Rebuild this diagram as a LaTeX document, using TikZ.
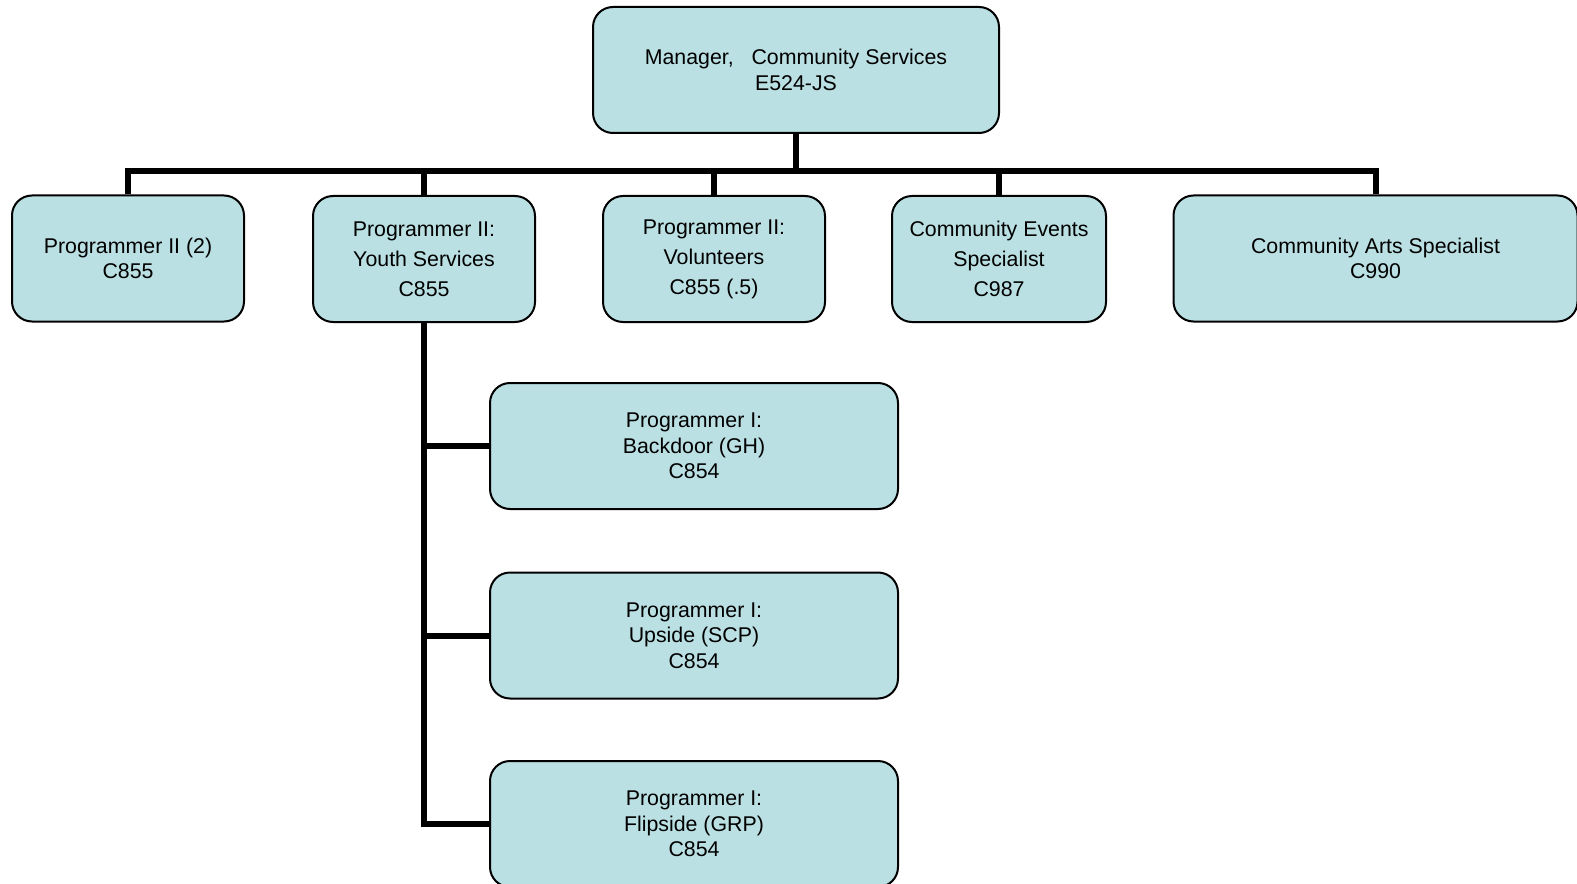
\documentclass[tikz,border=0pt]{standalone}
\usepackage{fontspec}
\setmainfont{Liberation Sans}
\definecolor{postfill}{HTML}{BAE0E3}

\begin{document}
\begin{tikzpicture}[x=0.75pt,y=-0.75pt,
    post/.style={draw=black, line width=1.5pt, fill=postfill, rounded corners=15pt,
        align=center, inner sep=0pt, minimum height=94.5pt,
        font=\fontsize{16}{19.1}\selectfont},
    roomy/.style={font=\fontsize{16}{22.5}\selectfont},
    link/.style={black, line width=4.5pt}]
    % CLIP EVERYTHING
    \useasboundingbox (0,0) rectangle (1577,884);
    \clip (0,0) rectangle (1577,884);

    % TOP
    \node[post, minimum width=304.5pt] (mgr) at (796,70) {Manager,~~~Community Services\\E524-JS};

    % SECOND ROW
    \node[post, minimum width=174pt] (p2) at (128,258.5) {Programmer II (2)\\C855};
    \node[post, roomy, minimum width=166.5pt] (youth) at (424,259) {Programmer II:\\Youth Services\\C855};
    \node[post, roomy, minimum width=166.5pt] (vol) at (714,259) {Programmer II:\\Volunteers\\C855 (.5)};
    \node[post, roomy, minimum width=160.5pt] (events) at (999,259) {Community Events\\Specialist\\C987};
    \node[post, minimum width=303pt] (arts) at (1375.5,258.5) {Community Arts Specialist\\C990};

    % YOUTH SERVICES
    \node[post, minimum width=306pt] (bd) at (694,446) {Programmer I:\\Backdoor (GH)\\C854};
    \node[post, minimum width=306pt] (up) at (694,635.5) {Programmer I:\\Upside (SCP)\\C854};
    \node[post, minimum width=306pt] (flip) at (694,824) {Programmer I:\\Flipside (GRP)\\C854};

    % LINKS
    \coordinate (bus) at (796,171.5);
    \draw[link] (p2.north) -- (p2.north |- bus) -- (arts.north |- bus) -- (arts.north);
    \foreach \n in {mgr.south, youth.north, vol.north, events.north} {
    \draw[link] (\n) -- (\n |- bus);
    }
    \draw[link] (youth.south) |- (flip.west);
    \foreach \n in {bd, up} {
    \draw[link] (\n.west) -- (\n.west -| youth.south);
    }
\end{tikzpicture}
\end{document}
